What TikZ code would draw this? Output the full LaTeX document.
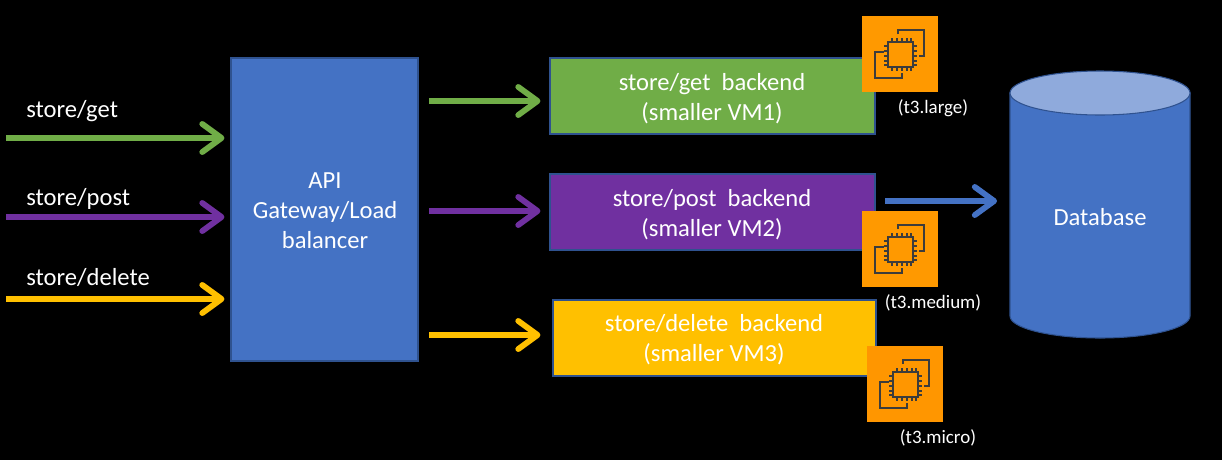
\documentclass[tikz,border=0pt]{standalone}
\usepackage{fontspec}
\setmainfont{Carlito}
\usetikzlibrary{arrows.meta}
\definecolor{getcol}{HTML}{70AD47}
\definecolor{postcol}{HTML}{7030A0}
\definecolor{delcol}{HTML}{FFC000}
\definecolor{apicol}{HTML}{4472C4}
\definecolor{topcol}{HTML}{8FAADC}
\definecolor{rimcol}{HTML}{2F528F}
\definecolor{iconcol}{HTML}{FF9900}
\definecolor{inkcol}{HTML}{3C3C3C}

\tikzset{
  flow/.style={line width=3.3pt, -{Straight Barb[round, length=11pt, width=16pt, line width=3.3pt]}},
  boxnode/.style={draw=rimcol, line width=.6pt, inner sep=0pt},
  boxtext/.style={text=white, align=center, inner sep=0pt, font=\fontsize{14}{17}\selectfont},
  reqlabel/.style={text=white, anchor=base west, inner sep=0pt, font=\fontsize{14}{17}\selectfont},
  vmlabel/.style={text=white, inner sep=0pt, font=\fontsize{10.8}{12}\selectfont},
  iconbox/.style={minimum width=43.3pt, minimum height=43.3pt, inner sep=0pt},
  chip/.pic={
    \begin{scope}[draw=inkcol, line width=1.2pt]
      \draw (-2,-20) -- (-2,-24) -- (24,-24) -- (24,2) -- (19,2);
      \draw (-16,-2) -- (-25,-2) -- (-25,24) -- (2,24) -- (2,19);
      \draw (-12,-12) rectangle (13,13);
      \foreach \p in {-8,-3,2,7,11} {
        \draw (\p,-12) -- (\p,-16);
        \draw (\p,13) -- (\p,17);
        \draw (-12,\p) -- (-16,\p);
        \draw (13,\p) -- (17,\p);
      }
    \end{scope}
  }
}

\begin{document}
\begin{tikzpicture}[x=.02cm, y=-.02cm]
  \fill[black] (0,0) rectangle (1222,460);
  \useasboundingbox (0,0) rectangle (1222,460);

  \node[boxnode, fill=apicol, minimum width=187*.02cm, minimum height=303*.02cm] (api) at (324.5,209.5) {};
  \node[boxtext] (apitext) at (325,211) {API\\Gateway/Load\\balancer};

  \node[boxnode, fill=getcol, minimum width=325*.02cm, minimum height=76*.02cm] (getbox) at (712.5,96) {};
  \node[boxnode, fill=postcol, minimum width=325*.02cm, minimum height=76*.02cm] (postbox) at (712.5,212) {};
  \node[boxnode, fill=delcol, minimum width=323*.02cm, minimum height=76*.02cm] (delbox) at (714.5,338) {};
  \node[boxtext] (gettext) at (712,99) {store/get~ backend\\(smaller VM1)};
  \node[boxtext] (posttext) at (712,215) {store/post~ backend\\(smaller VM2)};
  \node[boxtext] (deltext) at (714,340) {store/delete~ backend\\(smaller VM3)};

  % database
  \filldraw[fill=apicol, draw=rimcol, line width=.6pt] (1010,93) -- (1010,316) arc[start angle=180, end angle=360, x radius=90, y radius=-22] -- (1190,93) -- cycle;
  \filldraw[fill=topcol, draw=rimcol, line width=.6pt] (1100,93) ellipse[x radius=90, y radius=22];
  \coordinate (db) at (1010,201);
  \node[boxtext] (dbtext) at (1100,217) {Database};

  % request labels and arrows
  \node[reqlabel] (getlabel) at (26,117) {store/get};
  \node[reqlabel] (postlabel) at (26,205.5) {store/post};
  \node[reqlabel] (dellabel) at (26,285) {store/delete};

  \coordinate (getin) at (6,138);
  \coordinate (postin) at (6,217);
  \coordinate (delin) at (6,299);
  \draw[flow, draw=getcol, shorten >=6*.02cm] (getin) -- (getin -| api.west);
  \draw[flow, draw=postcol, shorten >=6*.02cm] (postin) -- (postin -| api.west);
  \draw[flow, draw=delcol, shorten >=6*.02cm] (delin) -- (delin -| api.west);

  \coordinate (getout) at (429,101);
  \coordinate (postout) at (429,211);
  \coordinate (delout) at (429,335);
  \draw[flow, draw=getcol, shorten >=9*.02cm] (getout) -- (getout -| getbox.west);
  \draw[flow, draw=postcol, shorten >=9*.02cm] (postout) -- (postout -| postbox.west);
  \draw[flow, draw=delcol, shorten >=12*.02cm] (delout) -- (delout -| delbox.west);

  \coordinate (dbout) at (885,201);
  \draw[flow, draw=apicol, shorten >=13*.02cm] (dbout) -- (db);

  % instance icons
  \node[iconbox, fill=iconcol] (icona) at (900,54) {};
  \node[iconbox, fill=iconcol] (iconb) at (900,249) {};
  \node[iconbox, fill=iconcol!90!orange] (iconc) at (905,384) {};
  \pic at (icona) {chip};
  \pic at (iconb) {chip};
  \pic at (iconc) {chip};

  \node[vmlabel] (vma) at (933,108) {(t3.large)};
  \node[vmlabel] (vmb) at (933,303) {(t3.medium)};
  \node[vmlabel] (vmc) at (938,438) {(t3.micro)};
\end{tikzpicture}
\end{document}
